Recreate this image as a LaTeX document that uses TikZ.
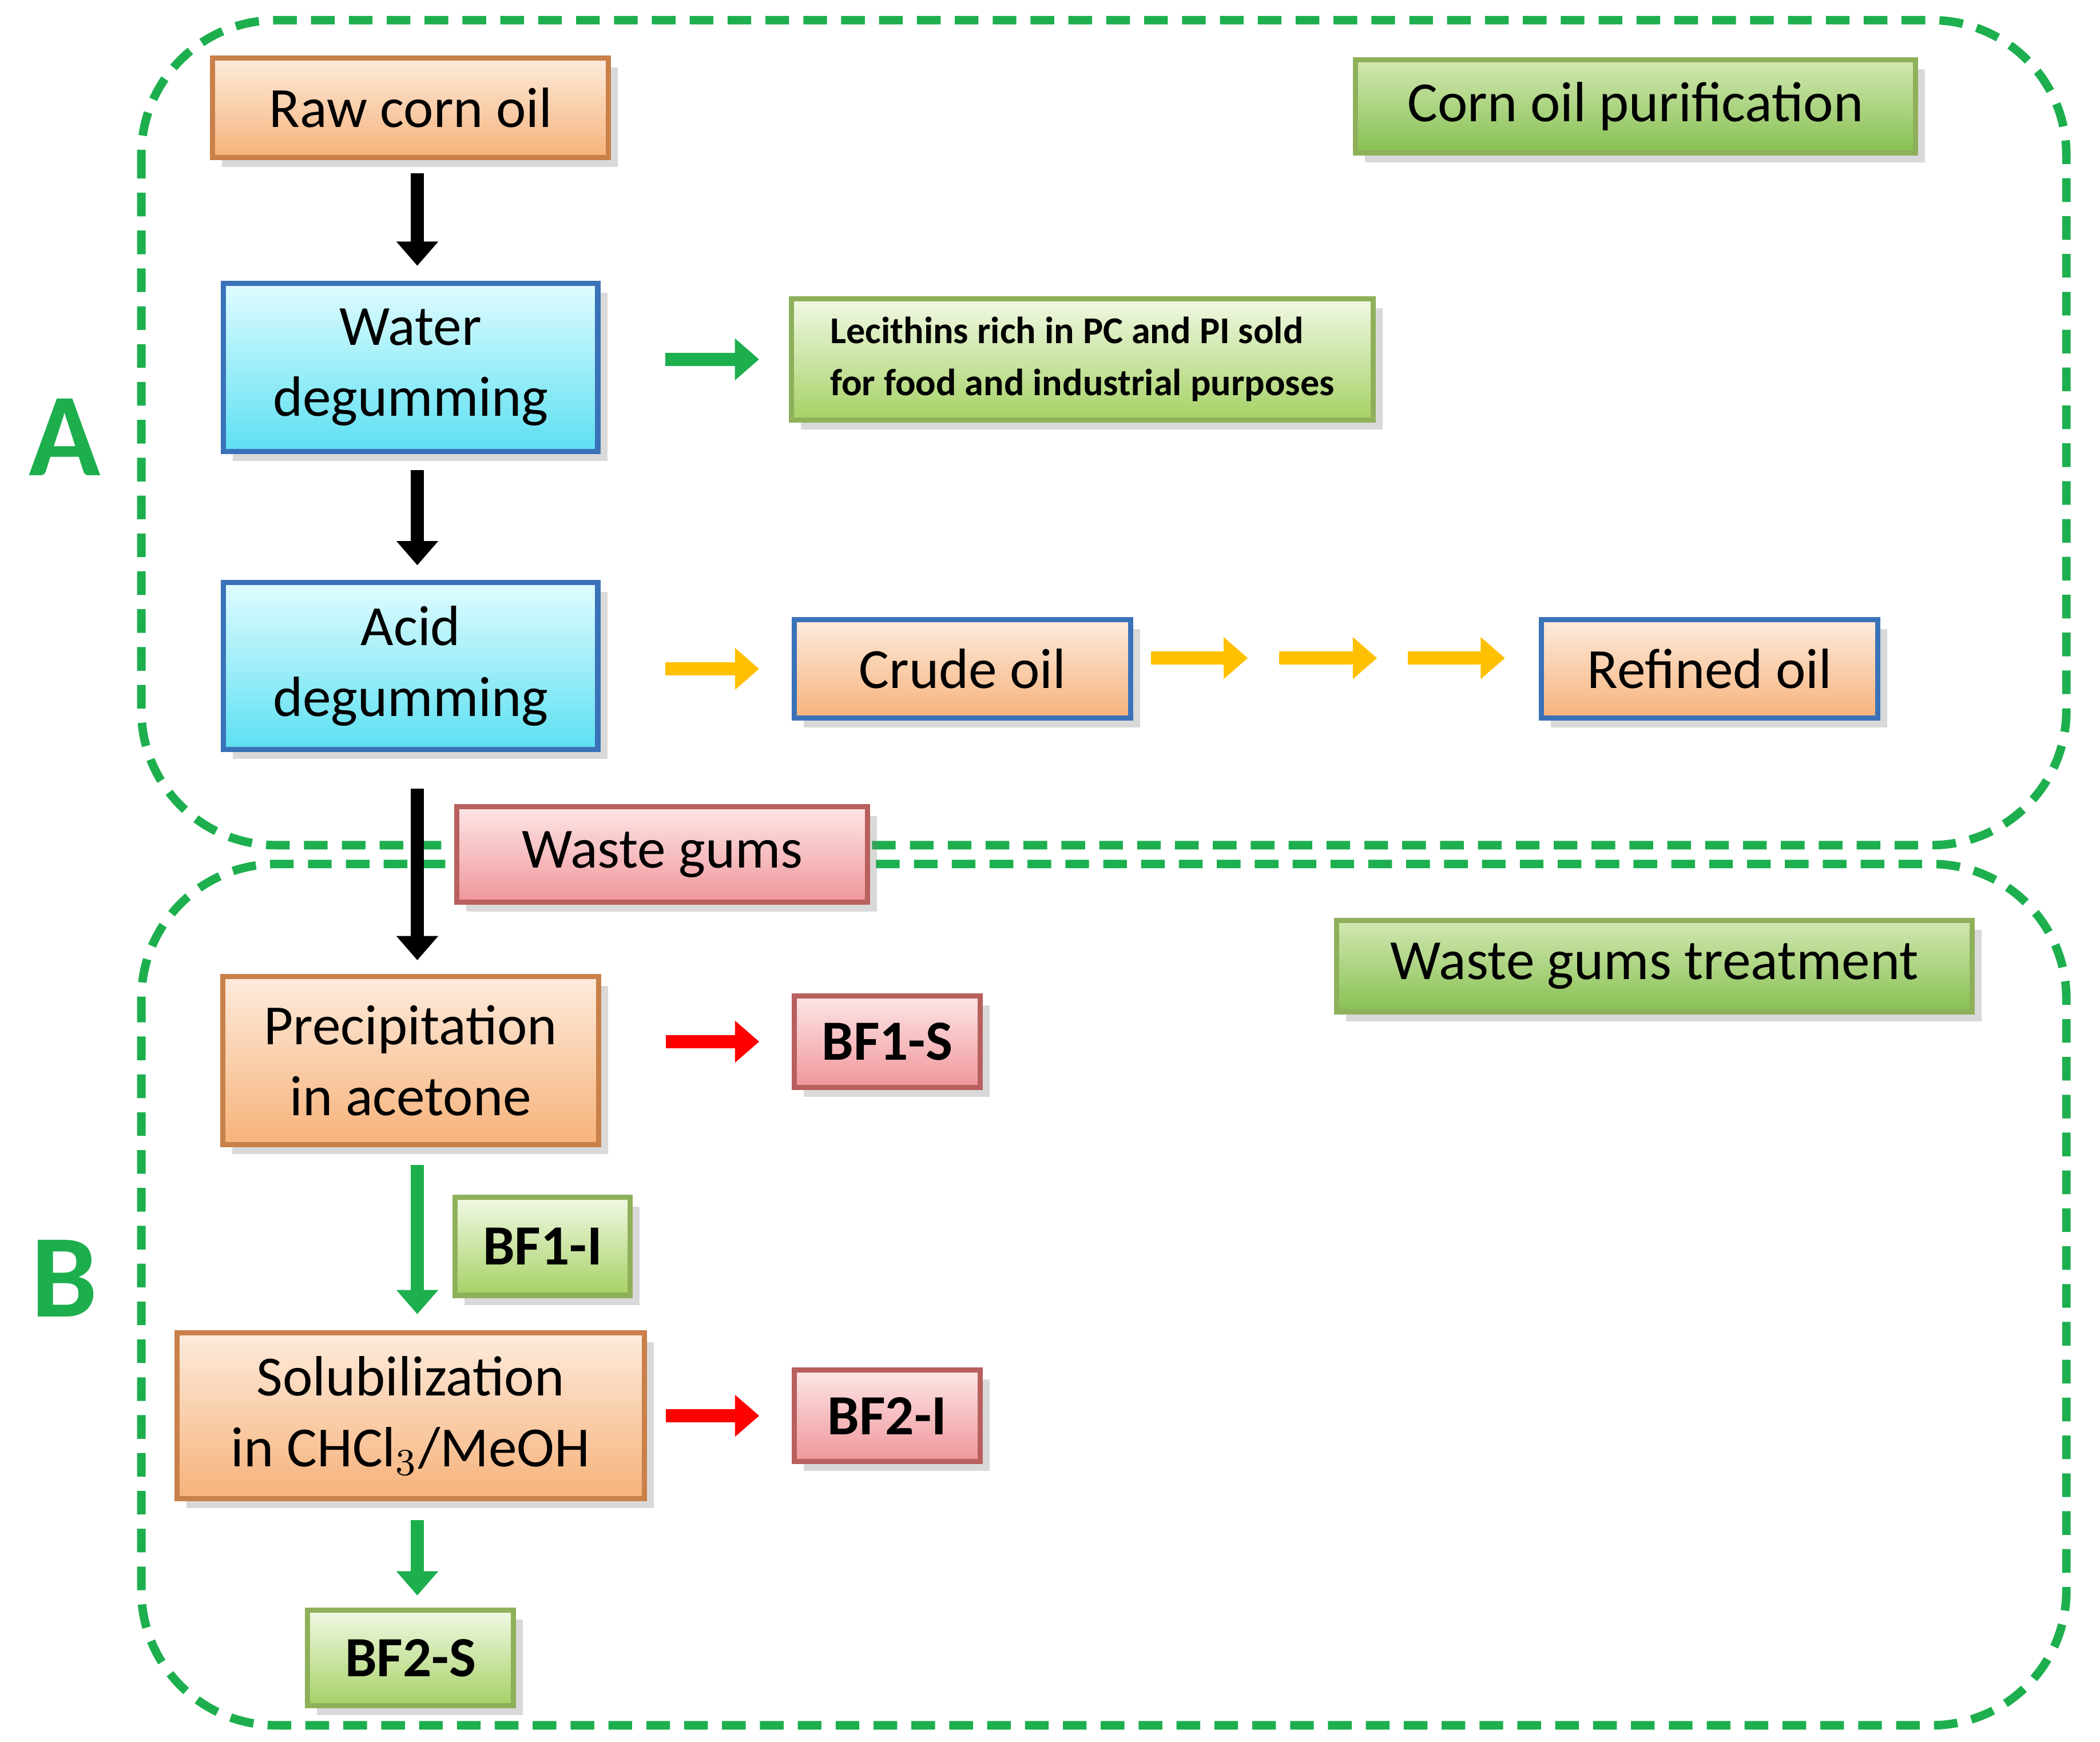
\documentclass[tikz,border=0pt]{standalone}
\usepackage{fontspec}
\setmainfont{Carlito}
\usetikzlibrary{arrows.meta,shadows,calc}
\definecolor{gline}{HTML}{1DAF4E}
\definecolor{orb}{HTML}{F7B27A}
\definecolor{ort}{HTML}{FDEBDC}
\definecolor{ordr}{HTML}{C98049}
\definecolor{cyb}{HTML}{5CE0F2}
\definecolor{cyt}{HTML}{E0FCFF}
\definecolor{bdr}{HTML}{3A72B8}
\definecolor{grb}{HTML}{A6D165}
\definecolor{grt}{HTML}{F1F9E4}
\definecolor{grd}{HTML}{8FB05A}
\definecolor{pkb}{HTML}{F0969A}
\definecolor{pkt}{HTML}{FDE6E6}
\definecolor{pkd}{HTML}{B8605E}
\definecolor{yar}{HTML}{FFC000}
\begin{document}
\begin{tikzpicture}[x=0.01cm,y=-0.01cm,
  box/.style={draw,line width=1.1pt,inner sep=0pt,align=center,
    font=\fontsize{12}{15}\selectfont,
    drop shadow={shadow xshift=2pt,shadow yshift=-2pt,opacity=0.3}},
  org/.style={box,draw=ordr,top color=ort,bottom color=orb},
  cyn/.style={box,draw=bdr,top color=cyt,bottom color=cyb},
  grn/.style={box,draw=grd,top color=grt,bottom color=grb},
  dgrn/.style={box,draw=grd,top color=grb!50,bottom color=grb!90!green!90!black},
  pnk/.style={box,draw=pkd,top color=pkt,bottom color=pkb},
  bf/.style={font=\bfseries\fontsize{12}{15}\selectfont},
  blk/.style={line width=0.1cm,-{Triangle[length=0.18cm,width=0.3cm]}},
  region/.style={draw=gline,dash pattern=on 5pt off 3pt,line width=1.8pt,rounded corners=1cm}]
\useasboundingbox (0,0) rectangle (1560,1294);
% regions
\draw[region] (105,15) rectangle (1535,628);
\draw[region] (105,642) rectangle (1535,1282);
\node[text=gline,font=\bfseries\fontsize{25}{28}\selectfont] (la) at (48,325) {A};
\node[text=gline,font=\bfseries\fontsize{25}{28}\selectfont] (lb) at (48,950) {B};
% boxes
\node[org,minimum width=2.94cm,minimum height=0.74cm] (raw) at (305,80) {Raw corn oil};
\node[cyn,minimum width=2.78cm,minimum height=1.25cm] (water) at (305,273) {Water\\degumming};
\node[cyn,minimum width=2.78cm,minimum height=1.24cm] (acid) at (305,495) {Acid\\degumming};
\node[grn,minimum width=4.32cm,minimum height=0.9cm,align=left,
  font=\bfseries\fontsize{8}{11}\selectfont] (lec) at (804,267)
  {Lecithins rich in PC and PI sold\\for food and industrial purposes};
\node[dgrn,minimum width=4.16cm,minimum height=0.69cm] (cop) at (1215,79) {Corn oil purification};
\node[org,draw=bdr,minimum width=2.5cm,minimum height=0.73cm] (crude) at (715,497) {Crude oil};
\node[org,draw=bdr,minimum width=2.5cm,minimum height=0.73cm] (refined) at (1270,497) {Refined oil};
\node[pnk,minimum width=3.05cm,minimum height=0.71cm] (waste) at (492,635) {Waste gums};
\node[dgrn,minimum width=4.72cm,minimum height=0.68cm] (wgt) at (1229,718) {Waste gums treatment};
\node[org,minimum width=2.79cm,minimum height=1.25cm] (prec) at (305,788) {Precipitation\\in acetone};
\node[pnk,bf,minimum width=1.38cm,minimum height=0.68cm] (bf1s) at (659,774) {BF1-S};
\node[grn,bf,minimum width=1.3cm,minimum height=0.73cm] (bf1i) at (403,926) {BF1-I};
\node[org,minimum width=3.47cm,minimum height=1.23cm] (sol) at (305,1052) {Solubilization\\in CHCl$_3$/MeOH};
\node[pnk,bf,minimum width=1.38cm,minimum height=0.68cm] (bf2i) at (659,1052) {BF2-I};
\node[grn,bf,minimum width=1.53cm,minimum height=0.71cm] (bf2s) at (305,1232) {BF2-S};
% connectors
\draw[blk,shorten <=0.1cm,shorten >=0.11cm] ($(raw.south)+(5,0)$) -- ($(water.north)+(5,0)$);
\draw[blk,shorten <=0.12cm,shorten >=0.11cm] ($(water.south)+(5,0)$) -- ($(acid.north)+(5,0)$);
\draw[blk,shorten <=0.27cm,shorten >=0.1cm] ($(acid.south)+(5,0)$) -- ($(prec.north)+(5,0)$);
\draw[blk,gline,shorten <=0.48cm,shorten >=0.22cm] (water.east|-lec) -- (lec.west);
\draw[blk,yar,shorten <=0.48cm,shorten >=0.24cm] (acid.east|-crude) -- (crude.west);
\coordinate (y1) at (950,489);
\coordinate (y2) at (1046,489);
\draw[blk,yar,shorten <=0.13cm,shorten >=0.23cm] (crude.east|-y1) -- (y1);
\draw[blk,yar,shorten >=0.23cm] (y1) -- (y2);
\draw[blk,yar,shorten >=0.25cm] (y2) -- (refined.west|-y2);
\draw[blk,red,shorten <=0.48cm,shorten >=0.24cm] (prec.east|-bf1s) -- (bf1s.west);
\draw[blk,red,shorten <=0.14cm,shorten >=0.24cm] (sol.east|-bf2i) -- (bf2i.west);
\draw[blk,gline,shorten <=0.13cm,shorten >=0.12cm] ($(prec.south)+(5,0)$) -- ($(sol.north)+(5,0)$);
\draw[blk,gline,shorten <=0.14cm,shorten >=0.09cm] ($(sol.south)+(5,0)$) -- ($(bf2s.north)+(5,0)$);
\end{tikzpicture}
\end{document}
